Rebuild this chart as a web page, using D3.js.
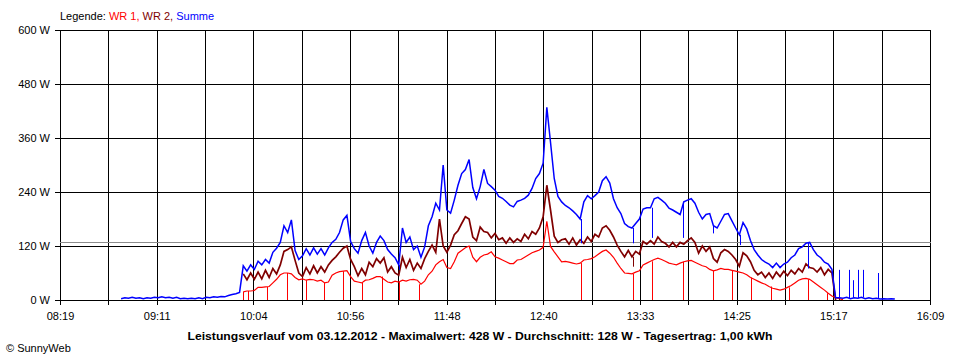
<!DOCTYPE html>
<html><head><meta charset="utf-8">
<script src="https://cdn.jsdelivr.net/npm/d3@7"></script>
<style>
body{margin:0;background:#fff}
svg{display:block}
text{font-family:"Liberation Sans",Arial,sans-serif;font-size:11px;fill:#000}
</style>
</head><body>
<svg id="chart" width="960" height="360"></svg>
<script>
// ---------- data ----------
const yTickValues = [0, 120, 240, 360, 480, 600];
const xTickLabels = ["08:19","09:11","10:04","10:56","11:48","12:40","13:33","14:25","15:17","16:09"];
const axisStart = "08:19", axisEnd = "16:09";
const seriesNames = ["WR 1", "WR 2", "Summe"];
const seriesColors = ["#ff0000", "#800000", "#0000ff"];
const averageW = 128;
const titleText = "Leistungsverlauf vom 03.12.2012 - Maximalwert: 428 W - Durchschnitt: 128 W - Tagesertrag: 1,00 kWh";
const copyrightText = "\u00A9 SunnyWeb";
const sampleStepMin = 2;

// Summe (blue), samples every 2 min from 08:52
const summeStart = "08:52";
const summe = [
 3,5,4,6,4,5,3,5,4,6, 5,7,5,6,4,6,3,4,3,4, 3,5,3,6,5,7,6,8,7,10, 12,14,17,
 76,64,78,68,86,78,90,82,106,115, 128,165,150,178,110,90,98,114,100,116,
 102,114,100,116,128,135,150,178,188,130, 114,104,132,150,120,104,128,142,132,112, 102,94,
 78,160,128,140,112,120,95,118,165,185, 215,200,300,200,193,222,255,281,290,312,
 250,225,252,290,259,252,244,230,226,219, 211,207,219,222,226,233,248,270,281,304,
 428,350,270,230,218,
 210,205,198,190,180,218,232,225,232,240, 265,274,260,225,205,192,170,163,160,170,
 180,202,205,205,225,228,222,215,204,200, 195,190,218,222,225,215,195,180,190,192,
 165,160,175,190,192,
 176,160,145,172,158,132,112,100,90,84, 80,72,82,72,80,84,94,100,114,118,
 126,128,112,100,94,84,80,68,5,5,
 4,6,3,5,4,6,3,5,3,4,2,3,2,3,2
];

// WR 2 (dark red), samples every 2 min from 09:58
const wr2Start = "09:58";
const wr2 = [
 58,45,60,46,62,47,66,50,70,58, 78,108,112,118,88,60,52,72,58,76,
 60,74,62,78,88,96,106,115,120,90, 74,54,70,56,84,74,92,82,94,62, 74,60,
 55,95,72,90,66,82,70,92,108,122, 106,180,120,106,122,145,154,170,185,180,
 140,132,162,152,150,138,148,134,138,126, 138,128,136,130,146,136,152,146,160,185,
 255,200,142,128,134,
 136,124,138,122,134,126,140,130,146,140, 160,165,155,140,122,108,96,110,96,108,
 102,130,124,132,124,140,130,126,118,128, 118,128,124,132,138,128,104,120,108,118,
 92,84,105,112,108,
 100,90,75,105,98,85,66,56,62,50, 60,48,62,52,64,54,66,58,70,62,
 80,72,70,62,72,56,68,60, 0
];

// WR 1 (red), samples every 2 min from 09:58
const wr1Start = "09:58";
const wr1 = [
 18,20,20,21,28,28,29,30,38,46, 56,60,60,58,50,45,47,44,46,45,
 42,44,38,40,55,60,63,64,65,52, 42,40,38,44,45,48,52,52,46,40, 38,42,
 40,44,42,45,46,44,35,42,56,64, 78,85,90,72,70,85,104,110,116,120,
 95,85,95,100,102,107,96,93,89,85, 81,81,89,90,95,100,105,108,111,117,
 175,119,107,96,85,
 86,84,82,80,82,89,90,92,96,102, 108,111,104,95,82,70,60,59,58,62,
 65,78,82,86,90,93,90,86,82,80, 78,82,85,87,88,84,80,76,74,68,
 65,67,70,68,68,
 66,64,62,60,56,50,46,42,38,35, 30,26,24,22,24,28,32,38,44,47,
 48,46,40,34,28,22,15,9,5,3, 1
];

// short single-reading glitches (time, value)
const wr1Glitches = [
 ["09:57:42",0],["10:00:42",0],["10:11:00",0],["10:21:30",0],["10:31:54",0],["10:41:48",0],
 ["10:52:00",0],["11:02:18",0],["11:12:48",0],["11:22:12",0],["11:33:06",0],["13:00:18",0],
 ["13:28:42",0],["13:39:00",0],["13:55:24",0],["14:11:54",0],["14:22:18",0],["14:32:18",0],
 ["14:42:54",0],["14:52:48",0],["15:03:12",0],["15:13:30",0]
];
const wr2Glitches = [["13:28:42",74],["15:19:36",60]];
const summeGlitches = [
 ["11:22:12",67],["13:00:18",126],["13:28:42",126],["13:39:00",138],["13:55:24",138],
 ["14:11:54",148],["14:26:24",122],["15:03:12",70],["15:19:36",67],["15:25:18",67],
 ["15:27:36",44],["15:30:18",67],["15:33:00",67],["15:40:42",60]
];

// ---------- drawing ----------
(function () {
const toMin = s => { const p = s.split(":").map(Number); return p[0]*60 + p[1] + (p[2]||0)/60; };
const svg = d3.select("#chart");
const pLeft = 60, pRight = 930, pTop = 30, pBottom = 300;
const tA = toMin(axisStart), tB = toMin(axisEnd);
const x = d3.scaleLinear().domain([tA, tB]).range([pLeft, pRight]);
const y = d3.scaleLinear().domain([0, 600]).range([pBottom, pTop]);

// vertical grid (18 intervals, labels every second line)
const nDiv = (xTickLabels.length - 1) * 2;
const gridTimes = d3.range(nDiv + 1).map(k => tA + k * (tB - tA) / nDiv);
svg.append("g").selectAll("line").data(gridTimes).join("line")
  .attr("x1", d => Math.round(x(d)) + 0.5).attr("x2", d => Math.round(x(d)) + 0.5)
  .attr("y1", y(600)).attr("y2", y(0) + 5)
  .attr("stroke", "#000").attr("stroke-width", 1);
svg.append("g").selectAll("text").data(xTickLabels).join("text")
  .attr("x", (d, i) => x(gridTimes[i * 2]) + 0.5).attr("y", 320)
  .attr("text-anchor", "middle").text(d => d);

// horizontal grid
svg.append("g").selectAll("line").data(yTickValues).join("line")
  .attr("x1", pLeft - 5).attr("x2", pRight + 1)
  .attr("y1", d => Math.round(y(d)) + 0.5).attr("y2", d => Math.round(y(d)) + 0.5)
  .attr("stroke", "#000").attr("stroke-width", 1);
svg.append("g").selectAll("text").data(yTickValues).join("text")
  .attr("x", 50).attr("y", d => y(d) + 4)
  .attr("text-anchor", "end").text(d => d + " W");

// average line
svg.append("line")
  .attr("x1", pLeft).attr("x2", pRight + 1)
  .attr("y1", Math.round(y(averageW)) + 0.5).attr("y2", Math.round(y(averageW)) + 0.5)
  .attr("stroke", "#8c8c8c").attr("stroke-width", 1);

// series
const mk = (start, vals) => vals.map((v, i) => ({t: toMin(start) + i * sampleStepMin, v}));
const series = [
  {pts: mk(wr1Start, wr1), gl: wr1Glitches, color: seriesColors[0], w: 1.2},
  {pts: mk(wr2Start, wr2), gl: wr2Glitches, color: seriesColors[1], w: 1.7},
  {pts: mk(summeStart, summe), gl: summeGlitches, color: seriesColors[2], w: 1.5}
];
const line = d3.line().x(d => x(d.t)).y(d => y(d.v));
series.forEach(s => {
  svg.append("path").datum(s.pts).attr("d", line)
    .attr("fill", "none").attr("stroke", s.color).attr("stroke-width", s.w)
    .attr("stroke-linejoin", "miter");
  const nearest = t => {
    let best = null, bd = Infinity;
    s.pts.forEach(p => { const dd = Math.abs(p.t - t); if (dd < bd) { bd = dd; best = p; } });
    return bd <= sampleStepMin ? best.v : 0;
  };
  svg.append("g").selectAll("line").data(s.gl).join("line")
    .attr("x1", d => Math.round(x(toMin(d[0]))) + 0.5).attr("x2", d => Math.round(x(toMin(d[0]))) + 0.5)
    .attr("y1", d => y(nearest(toMin(d[0])))).attr("y2", d => y(d[1]))
    .attr("stroke", s.color).attr("stroke-width", 1);
});

// legend
const leg = svg.append("text").attr("x", 60).attr("y", 20);
leg.append("tspan").text("Legende: ");
seriesNames.forEach((n, i) => {
  leg.append("tspan").attr("fill", seriesColors[i]).text(n + (i < seriesNames.length - 1 ? ", " : ""));
});

// title + copyright
svg.append("text").attr("x", 480).attr("y", 340).attr("text-anchor", "middle")
  .attr("font-weight", "bold").attr("textLength", 585).attr("lengthAdjust", "spacingAndGlyphs")
  .text(titleText);
svg.append("text").attr("x", 6).attr("y", 352).text(copyrightText);
})();
</script>
</body></html>
